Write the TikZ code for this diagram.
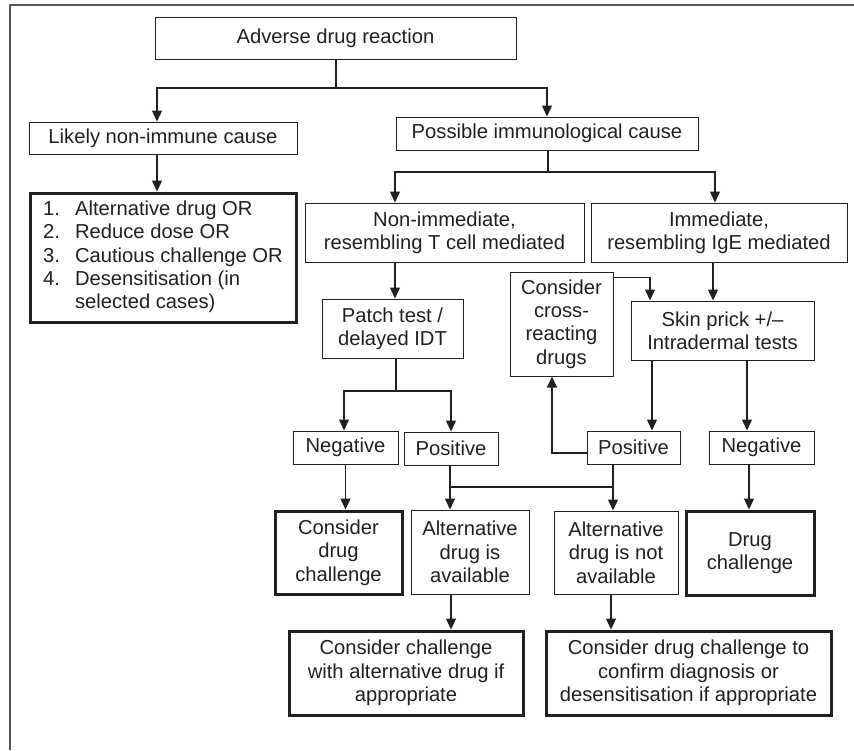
\documentclass[tikz,border=0pt]{standalone}
\usepackage{fontspec}
\setmainfont{Liberation Sans}
\usetikzlibrary{arrows.meta}
\definecolor{ink}{RGB}{35,31,32}
\definecolor{framegray}{RGB}{85,85,85}

\begin{document}
\begin{tikzpicture}[x=1pt, y=-1pt,
    font=\fontsize{20.2}{23.4}\selectfont, text=ink,
    box/.style={draw=ink, line width=1pt, inner sep=0pt, align=center},
    endbox/.style={box, line width=3pt},
    arr/.style={draw=ink, line width=1.3pt, -{Triangle[length=11pt, width=10pt]}},
    link/.style={draw=ink, line width=1.3pt}]
  \useasboundingbox (0,0) rectangle (854,750);
  \draw[framegray, line width=1.2pt] (10,750) -- (10,5) -- (854,5);

  % top levels
  \node[box, minimum width=361, minimum height=42] (adr) at (335.5,38) {Adverse drug reaction};
  \node[box, minimum width=268, minimum height=32] (likely) at (163,138) {Likely non-immune cause};
  \node[box, minimum width=302, minimum height=33] (poss) at (547,133.5) {Possible immunological cause};
  \node[endbox, minimum width=266, minimum height=129] (list) at (163,257.5) {%
    \begin{tabular}{@{}l@{\hspace{15pt}}l@{}}
      1. & Alternative drug OR\\
      2. & Reduce dose OR\\
      3. & Cautious challenge OR\\
      4. & Desensitisation (in\\
         & selected cases)
    \end{tabular}};
  \node[box, minimum width=279, minimum height=59] (nonT) at (444.5,232.5) {Non-immediate,\\resembling T cell mediated};
  \node[box, minimum width=256, minimum height=59] (ige) at (719,232.5) {Immediate,\\resembling IgE mediated};

  % tests
  \node[box, minimum width=141, minimum height=59] (patch) at (392.5,328.5) {Patch test /\\delayed IDT};
  \node[box, minimum width=103, minimum height=104] (cross) at (561.5,324) {Consider\\cross-\\reacting\\drugs};
  \node[box, minimum width=183, minimum height=59] (skin) at (722.5,330.5) {Skin prick +/--\\Intradermal tests};

  % results
  \node[box, minimum width=105, minimum height=33] (negL) at (345.5,447.5) {Negative};
  \node[box, minimum width=94, minimum height=33] (posL) at (451,448.5) {Positive};
  \node[box, minimum width=93, minimum height=33] (posR) at (633.5,447.5) {Positive};
  \node[box, minimum width=105, minimum height=33] (negR) at (761.5,447.5) {Negative};

  % outcomes
  \node[endbox, minimum width=127, minimum height=83] (cdc) at (338.5,552.5) {Consider\\drug\\challenge};
  \node[box, minimum width=118, minimum height=84] (altA) at (470,552) {Alternative\\drug is\\available};
  \node[box, minimum width=124, minimum height=83] (altN) at (616,552.5) {Alternative\\drug is not\\available};
  \node[endbox, minimum width=128, minimum height=84] (drugch) at (750,553) {Drug\\challenge};
  \node[endbox, minimum width=234, minimum height=84] (calt) at (406,673) {Consider challenge\\with alternative drug if\\appropriate};
  \node[endbox, minimum width=285, minimum height=84] (cconf) at (688.5,673) {Consider drug challenge to\\confirm diagnosis or\\desensitisation if appropriate};

  % junctions
  \coordinate (j1) at (336,88);
  \coordinate (j2) at (548,172);
  \coordinate (j3) at (396,391);
  \coordinate (j4) at (450,487);
  \coordinate (j5) at (613,487);

  \draw[link] ([xshift=0.5]adr.south) -- (j1);
  \draw[arr] (j1) -| ([xshift=-6]likely.north);
  \draw[arr] (j1) -| (poss.north);
  \draw[arr] ([xshift=-6]likely.south) -- ([xshift=-6]list.north);
  \draw[link] ([xshift=1]poss.south) -- (j2);
  \draw[arr] (j2) -| ([xshift=-49.5]nonT.north);
  \draw[arr] (j2) -| ([xshift=-4]ige.north);
  \draw[arr] ([xshift=-49.5]nonT.south) -- ([xshift=2.5]patch.north);
  \draw[arr] ([xshift=-6]ige.south) -- ([xshift=-9.5]skin.north);
  \draw[arr] ([yshift=-6]cross.north east) -| ([xshift=-72.5]skin.north);
  \draw[link] ([xshift=3.5]patch.south) -- (j3);
  \draw[arr] (j3) -| ([xshift=-1.5]negL.north);
  \draw[arr] (j3) -| (posL.north);
  \draw[arr] ([xshift=-70.5]skin.south) -- ([xshift=18.5]posR.north);
  \draw[arr] ([xshift=24.5]skin.south) -- ([xshift=-14.5]negR.north);
  \draw[arr] ([yshift=-5.5]posR.west) -| ([xshift=-9.5]cross.south);
  \draw[arr] (negL.south) -- ([xshift=7]cdc.north);
  \draw[arr] ([xshift=-1]posL.south) -- ([xshift=-20]altA.north);
  \draw[arr] ([xshift=-20.5]posR.south) -- ([xshift=-3]altN.north);
  \draw[link] (j4) -- (j5);
  \draw[arr] ([xshift=-12.5]negR.south) -- ([xshift=-1]drugch.north);
  \draw[arr] ([xshift=-19]altA.south) -- ([xshift=45]calt.north);
  \draw[arr] ([xshift=-5]altN.south) -- ([xshift=-77.5]cconf.north);
\end{tikzpicture}
\end{document}
